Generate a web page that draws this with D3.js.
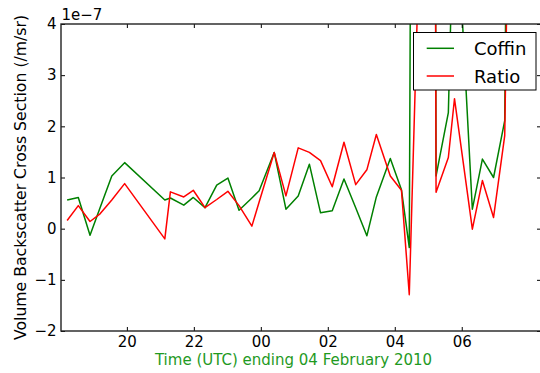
<!DOCTYPE html>
<html>
<head>
<meta charset="utf-8">
<script src="https://cdn.jsdelivr.net/npm/d3@7"></script>
<style>
  html, body { margin: 0; padding: 0; background: #fff; }
  svg { display: block; font-family: "DejaVu Sans", sans-serif; }
</style>
</head>
<body>
<svg id="chart" width="540" height="373"></svg>
<script>
// Observation times (UTC)
const times = [
  "2010-02-03 18:13", "2010-02-03 18:33", "2010-02-03 18:54", "2010-02-03 19:12",
  "2010-02-03 19:33", "2010-02-03 19:56", "2010-02-03 21:08", "2010-02-03 21:18",
  "2010-02-03 21:42", "2010-02-03 21:59", "2010-02-03 22:20", "2010-02-03 22:41",
  "2010-02-03 23:01", "2010-02-03 23:21", "2010-02-03 23:44", "2010-02-03 23:57",
  "2010-02-04 00:24", "2010-02-04 00:45", "2010-02-04 01:07", "2010-02-04 01:27",
  "2010-02-04 01:47", "2010-02-04 02:08", "2010-02-04 02:29", "2010-02-04 02:50",
  "2010-02-04 03:10", "2010-02-04 03:27", "2010-02-04 03:52", "2010-02-04 04:12",
  "2010-02-04 04:26", "2010-02-04 04:49", "2010-02-04 05:05", "2010-02-04 05:14",
  "2010-02-04 05:36", "2010-02-04 05:47", "2010-02-04 06:19", "2010-02-04 06:37",
  "2010-02-04 06:57", "2010-02-04 07:17", "2010-02-04 07:37"
];

// Volume backscatter cross section, in units of 1e-7 /m/sr
const coffin = [
  0.56, 0.61, -0.13, 0.41, 1.03, 1.29, 0.56, 0.60, 0.46, 0.61, 0.41, 0.85, 0.99,
  0.36, 0.60, 0.74, 1.49, 0.38, 0.64, 1.26, 0.31, 0.35, 0.97, 0.41, -0.14, 0.62,
  1.37, 0.76, -0.37, 60, 40, 1.03, 2.27, 7.0, 0.38, 1.36, 1.00, 2.11, 28
];
const ratio = [
  0.16, 0.45, 0.14, 0.29, 0.56, 0.88, -0.20, 0.72, 0.62, 0.75, 0.41, 0.57, 0.73,
  0.45, 0.05, 0.52, 1.49, 0.64, 1.58, 1.49, 1.33, 0.82, 1.69, 0.86, 1.15, 1.84,
  1.03, 0.75, -1.29, 7.5, 40, 0.71, 1.39, 2.54, -0.01, 0.94, 0.22, 1.82, 16
];

const seriesNames = ["Coffin", "Ratio"];
const seriesColors = ["#008000", "#ff0000"];
const yTicks = [-2, -1, 0, 1, 2, 3, 4];
const xTickTimes = ["2010-02-03 20:00", "2010-02-03 22:00", "2010-02-04 00:00",
                    "2010-02-04 02:00", "2010-02-04 04:00", "2010-02-04 06:00"];
const xRange = ["2010-02-03 18:02", "2010-02-04 08:22"];
const yRange = [-2, 4];
const exponentLabel = "1e\u22127";
const yLabel = "Volume Backscatter Cross Section (/m/sr)";
const xLabel = "Time (UTC) ending 04 February 2010";

const parse = d3.utcParse("%Y-%m-%d %H:%M");
const svg = d3.select("#chart");

const plot = { left: 61, top: 24, right: 541, bottom: 331 };

const x = d3.scaleUtc()
  .domain(xRange.map(parse))
  .range([plot.left, plot.right]);
const y = d3.scaleLinear()
  .domain(yRange)
  .range([plot.bottom, plot.top]);

const tickFont = 15;

// clip region for the data lines
svg.append("defs").append("clipPath").attr("id", "plot-clip")
  .append("rect")
  .attr("x", plot.left).attr("y", plot.top)
  .attr("width", plot.right - plot.left).attr("height", plot.bottom - plot.top);

const series = [coffin, ratio].map((vals, i) => ({
  name: seriesNames[i],
  color: seriesColors[i],
  points: vals.map((v, j) => ({ t: parse(times[j]), v }))
}));

const line = d3.line().x(d => x(d.t)).y(d => y(d.v));

svg.append("g").attr("clip-path", "url(#plot-clip)")
  .selectAll("path").data(series).join("path")
  .attr("d", d => line(d.points))
  .attr("fill", "none")
  .attr("stroke", d => d.color)
  .attr("stroke-width", 1.5)
  .attr("stroke-linejoin", "round");

// axes with inward ticks on all four sides
const xTicks = xTickTimes.map(parse);
function styleAxis(g) {
  g.select(".domain").remove();
  g.selectAll(".tick line").attr("stroke", "#000").attr("stroke-width", 1);
  g.selectAll(".tick text")
    .attr("fill", "#000")
    .style("font-family", "DejaVu Sans")
    .style("font-size", tickFont + "px");
}

svg.append("g").attr("transform", `translate(0,${plot.bottom})`)
  .call(d3.axisBottom(x).tickValues(xTicks).tickFormat(d3.utcFormat("%H"))
    .tickSize(-4).tickPadding(5.5))
  .call(styleAxis);
svg.append("g").attr("transform", `translate(0,${plot.top})`)
  .call(d3.axisTop(x).tickValues(xTicks).tickFormat("").tickSize(-4))
  .call(styleAxis);
svg.append("g").attr("transform", `translate(${plot.left},0)`)
  .call(d3.axisLeft(y).tickValues(yTicks).tickFormat(d3.format("d"))
    .tickSize(-4).tickPadding(4.5))
  .call(styleAxis);
svg.append("g").attr("transform", `translate(${plot.right},0)`)
  .call(d3.axisRight(y).tickValues(yTicks).tickFormat("").tickSize(-4))
  .call(styleAxis);

// frame
svg.append("rect")
  .attr("x", plot.left).attr("y", plot.top)
  .attr("width", plot.right - plot.left).attr("height", plot.bottom - plot.top)
  .attr("fill", "none").attr("stroke", "#222").attr("stroke-width", 1.4);

// offset exponent
svg.append("text")
  .attr("x", plot.left + 0.5).attr("y", 19.5)
  .style("font-size", tickFont + "px")
  .text(exponentLabel);

// axis titles
svg.append("text")
  .attr("transform", `translate(26,${(plot.top + plot.bottom) / 2}) rotate(-90)`)
  .attr("text-anchor", "middle")
  .style("font-size", "15.7px")
  .text(yLabel);

svg.append("text")
  .attr("x", 293.5).attr("y", 365)
  .attr("text-anchor", "middle")
  .attr("fill", "#1f9a1f")
  .style("font-size", "15px")
  .text(xLabel);

// legend
const legend = svg.append("g");
legend.append("rect")
  .attr("x", 413.5).attr("y", 32.5).attr("width", 122.5).attr("height", 57.5)
  .attr("fill", "#fff").attr("stroke", "#000").attr("stroke-width", 1);
const rows = legend.selectAll("g.row").data(series).join("g")
  .attr("class", "row")
  .attr("transform", (d, i) => `translate(0,${48.3 + i * 27.7})`);
rows.append("line")
  .attr("x1", 426.7).attr("x2", 454).attr("y1", 0).attr("y2", 0)
  .attr("stroke", d => d.color).attr("stroke-width", 1.5);
rows.append("text")
  .attr("x", 474).attr("y", 6.5)
  .style("font-size", "18px")
  .text(d => d.name);
</script>
</body>
</html>
